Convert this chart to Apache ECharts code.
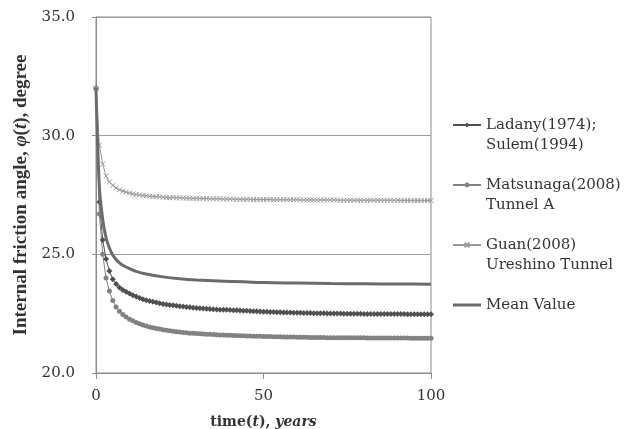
<!DOCTYPE html>
<html>
<head>
<meta charset="utf-8">
<script src="https://cdn.jsdelivr.net/npm/echarts@6/dist/echarts.min.js"></script>
<style>
  html, body { margin: 0; padding: 0; background: #fff; }
  #chart { width: 629px; height: 429px; }
</style>
</head>
<body>
<div id="chart"></div>
<script>
// time axis, one point per year
const years = Array.from({ length: 101 }, (_, i) => i);

const ladany = [
  32.0, 27.2, 25.6, 24.8, 24.3, 23.95, 23.75, 23.6, 23.5, 23.42,
  23.35, 23.28, 23.22, 23.16, 23.11, 23.07, 23.03, 23.0, 22.97, 22.94,
  22.91, 22.89, 22.87, 22.85, 22.83, 22.81, 22.8, 22.78, 22.77, 22.75,
  22.74, 22.73, 22.72, 22.71, 22.7, 22.69, 22.68, 22.67, 22.67, 22.66,
  22.65, 22.64, 22.64, 22.63, 22.62, 22.62, 22.61, 22.6, 22.6, 22.59,
  22.58, 22.58, 22.57, 22.57, 22.56, 22.56, 22.55, 22.55, 22.55, 22.54,
  22.54, 22.54, 22.53, 22.53, 22.53, 22.52, 22.52, 22.52, 22.52, 22.51,
  22.51, 22.51, 22.51, 22.51, 22.5, 22.5, 22.5, 22.5, 22.5, 22.5,
  22.49, 22.49, 22.49, 22.49, 22.49, 22.49, 22.49, 22.49, 22.49, 22.49,
  22.49, 22.49, 22.49, 22.48, 22.48, 22.48, 22.48, 22.48, 22.48, 22.48,
  22.48
];

const matsunaga = [
  32.0, 26.7, 25.0, 24.0, 23.45, 23.05, 22.78, 22.6, 22.46, 22.36,
  22.27, 22.2, 22.13, 22.07, 22.02, 21.98, 21.94, 21.91, 21.88, 21.85,
  21.82, 21.8, 21.78, 21.76, 21.74, 21.73, 21.71, 21.7, 21.68, 21.67,
  21.66, 21.65, 21.64, 21.63, 21.63, 21.62, 21.61, 21.6, 21.6, 21.59,
  21.59, 21.58, 21.58, 21.57, 21.57, 21.56, 21.56, 21.55, 21.55, 21.55,
  21.54, 21.54, 21.54, 21.53, 21.53, 21.53, 21.52, 21.52, 21.52, 21.52,
  21.51, 21.51, 21.51, 21.51, 21.5, 21.5, 21.5, 21.5, 21.5, 21.49,
  21.49, 21.49, 21.49, 21.49, 21.49, 21.48, 21.48, 21.48, 21.48, 21.48,
  21.48, 21.47, 21.47, 21.47, 21.47, 21.47, 21.47, 21.47, 21.47, 21.47,
  21.47, 21.47, 21.47, 21.47, 21.46, 21.46, 21.46, 21.46, 21.46, 21.46,
  21.46
];

const guan = [
  32.0, 29.6, 28.8, 28.3, 28.05, 27.9, 27.8, 27.72, 27.66, 27.62,
  27.58, 27.55, 27.52, 27.5, 27.48, 27.47, 27.45, 27.44, 27.43, 27.42,
  27.41, 27.4, 27.39, 27.39, 27.38, 27.38, 27.37, 27.37, 27.36, 27.36,
  27.36, 27.35, 27.35, 27.35, 27.34, 27.34, 27.34, 27.34, 27.33, 27.33,
  27.33, 27.33, 27.32, 27.32, 27.32, 27.32, 27.32, 27.31, 27.31, 27.31,
  27.31, 27.31, 27.31, 27.3, 27.3, 27.3, 27.3, 27.3, 27.3, 27.3,
  27.3, 27.29, 27.29, 27.29, 27.29, 27.29, 27.29, 27.29, 27.29, 27.29,
  27.29, 27.29, 27.29, 27.28, 27.28, 27.28, 27.28, 27.28, 27.28, 27.28,
  27.28, 27.28, 27.28, 27.28, 27.28, 27.28, 27.28, 27.28, 27.28, 27.28,
  27.28, 27.27, 27.27, 27.27, 27.27, 27.27, 27.27, 27.27, 27.27, 27.27,
  27.27
];

const meanYears = [0, 1, 2, 3, 4, 5, 6, 7, 8, 10, 12, 15, 20, 25, 30, 40, 50, 60, 70, 80, 90, 100];
const meanValue = [32.0, 27.83, 26.47, 25.7, 25.27, 24.97, 24.78, 24.64, 24.54, 24.4, 24.28, 24.17, 24.05, 23.97, 23.92, 23.86, 23.81, 23.79, 23.77, 23.76, 23.75, 23.74];

const seriesNames = [
  'Ladany(1974);\nSulem(1994)',
  'Matsunaga(2008)\nTunnel A',
  'Guan(2008)\nUreshino Tunnel',
  'Mean Value'
];

const yTicks = [20, 25, 30, 35];
const xTicks = [0, 50, 100];

const pairs = (xs, ys) => xs.map((x, i) => [x, ys[i]]);

const serif = 'Liberation Serif';
const wideSerif = 'DejaVu Serif';
const textColor = '#333';

const chart = echarts.init(document.getElementById('chart'));

chart.setOption({
  animation: false,
  backgroundColor: '#fff',
  grid: {
    left: 96,
    right: 198,
    top: 17,
    bottom: 56,
    outerBoundsMode: 'none',
    show: true,
    borderColor: '#8c8c8c',
    borderWidth: 1
  },
  xAxis: {
    type: 'value',
    min: xTicks[0],
    max: xTicks[xTicks.length - 1],
    interval: 50,
    axisLine: { show: true, lineStyle: { color: '#8c8c8c', width: 1 } },
    axisTick: { show: true, length: 6, lineStyle: { color: '#8c8c8c' } },
    splitLine: { show: false },
    axisLabel: {
      margin: 16,
      fontFamily: wideSerif,
      fontSize: 15,
      color: textColor
    },
    name: '{b|time(}{bi|t}{b|), }{bi|years}',
    nameLocation: 'middle',
    nameGap: 42,
    nameTextStyle: {
      fontFamily: wideSerif,
      fontWeight: 'bold',
      fontSize: 14,
      color: textColor,
      rich: {
        b: { fontFamily: wideSerif, fontWeight: 'bold', fontSize: 14, color: textColor },
        bi: { fontFamily: wideSerif, fontWeight: 'bold', fontStyle: 'italic', fontSize: 14, color: textColor }
      }
    }
  },
  yAxis: {
    type: 'value',
    min: yTicks[0],
    max: yTicks[yTicks.length - 1],
    interval: 5,
    axisLine: { show: true, lineStyle: { color: '#8c8c8c', width: 1 } },
    axisTick: { show: true, length: 4, lineStyle: { color: '#8c8c8c' } },
    splitLine: { show: true, lineStyle: { color: '#a0a0a0', width: 1 } },
    axisLabel: {
      margin: 21,
      fontFamily: wideSerif,
      fontSize: 15,
      color: textColor,
      formatter: v => v.toFixed(1)
    },
    name: '{b|Internal friction angle, }{bi|φ}{b|(}{bi|t}{b|), degree}',
    nameLocation: 'middle',
    nameGap: 62,
    nameTextStyle: {
      fontFamily: serif,
      fontWeight: 'bold',
      fontSize: 19,
      color: textColor,
      rich: {
        b: { fontFamily: serif, fontWeight: 'bold', fontSize: 19, color: textColor },
        bi: { fontFamily: serif, fontWeight: 'bold', fontStyle: 'italic', fontSize: 19, color: textColor }
      }
    }
  },
  legend: {
    orient: 'vertical',
    left: 452,
    top: 95,
    padding: 0,
    itemGap: 0,
    itemWidth: 28,
    itemHeight: 6,
    textStyle: { fontFamily: wideSerif, fontSize: 15, color: textColor, lineHeight: 20 },
    // blank first line keeps the marker level with the first text line
    formatter: name => name === seriesNames[3] ? ' \n' + name + '\n ' : ' \n' + name,
    data: [
      { name: seriesNames[0] },
      { name: seriesNames[1] },
      { name: seriesNames[2] },
      { name: seriesNames[3], icon: 'path://M0,0L28,0L28,3L0,3Z' }
    ]
  },
  series: [
    {
      name: seriesNames[0],
      type: 'line',
      data: pairs(years, ladany),
      symbol: 'diamond',
      symbolSize: 6,
      lineStyle: { color: '#505050', width: 1 },
      itemStyle: { color: '#505050' },
      z: 3
    },
    {
      name: seriesNames[1],
      type: 'line',
      data: pairs(years, matsunaga),
      symbol: 'circle',
      symbolSize: 5,
      lineStyle: { color: '#828282', width: 1 },
      itemStyle: { color: '#828282' },
      z: 3
    },
    {
      name: seriesNames[2],
      type: 'line',
      data: pairs(years, guan),
      symbol: 'path://M0,0L10,10M10,0L0,10',
      symbolSize: 5,
      lineStyle: { color: '#9a9a9a', width: 1 },
      itemStyle: { color: '#9a9a9a', borderColor: '#9a9a9a', borderWidth: 1 },
      z: 3
    },
    {
      name: seriesNames[3],
      type: 'line',
      data: pairs(meanYears, meanValue),
      showSymbol: false,
      symbol: 'none',
      smooth: 0.3,
      lineStyle: { color: '#6b6b6b', width: 3 },
      itemStyle: { color: '#6b6b6b' },
      z: 4
    }
  ]
});
</script>
</body>
</html>
